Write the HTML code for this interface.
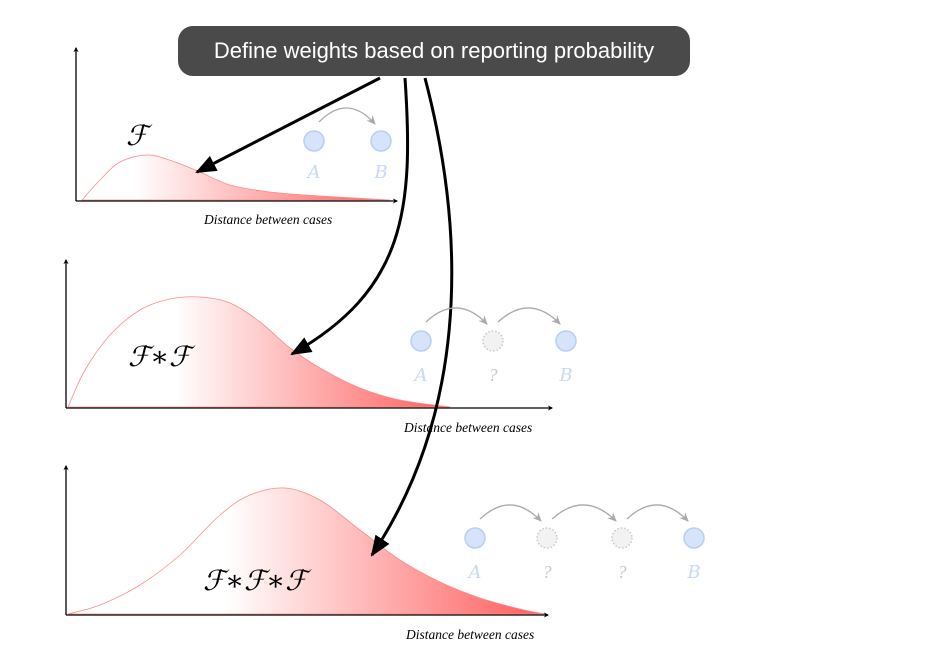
<!DOCTYPE html>
<html><head><meta charset="utf-8"><style>
body{margin:0;background:#fff;width:935px;height:661px;overflow:hidden}
svg{display:block}
.xl{font-family:"Liberation Serif",serif;font-style:italic;font-size:13.5px;fill:#000}
.fl{font-family:"DejaVu Serif","Liberation Serif",serif;font-style:italic;font-size:28px;fill:#000}
.nl{font-family:"DejaVu Serif","Liberation Serif",serif;font-style:italic;font-size:18px;fill:#c9d9f7}
.ql{font-family:"Liberation Serif",serif;font-style:italic;font-size:18px;fill:#c8c8c8}
</style></head><body>
<svg id="s" width="935" height="661" viewBox="0 0 935 661">
<defs>
<marker id="ah" viewBox="0 0 10 10" refX="9" refY="5" markerWidth="7" markerHeight="7" orient="auto"><path d="M0,1 L10,5 L0,9 z" fill="#000"/></marker>
<marker id="bh" viewBox="0 0 10 10" refX="8" refY="5" markerWidth="4" markerHeight="4" orient="auto"><path d="M0,0 L10,5 L0,10 L3,5z" fill="#000"/></marker>
<marker id="gh" viewBox="0 0 10 10" refX="8" refY="5" markerWidth="8" markerHeight="8" orient="auto"><path d="M0,1 L9,5 L0,9 L3,5z" fill="#aaa"/></marker>
<linearGradient id="g1" x1="0" x2="1" y1="0" y2="0"><stop offset="0.17" stop-color="#fff"/><stop offset="1" stop-color="#ff5c5c"/></linearGradient>
<linearGradient id="g2" x1="0" x2="1" y1="0" y2="0"><stop offset="0.28" stop-color="#fff"/><stop offset="1" stop-color="#ff5c5c"/></linearGradient>
<linearGradient id="g3" x1="0" x2="1" y1="0" y2="0"><stop offset="0.33" stop-color="#fff"/><stop offset="1" stop-color="#ff5c5c"/></linearGradient>
</defs>
<g id="curves"></g>
<g>
<rect x="178" y="26" width="512" height="50" rx="15" fill="#4a4a4a"/>
<text x="434" y="58" text-anchor="middle" font-family="Liberation Sans, sans-serif" font-size="22" fill="#fff">Define weights based on reporting probability</text>
</g>
<g fill="none" stroke="#000" stroke-width="3">
<path d="M380,78 L197,172" marker-end="url(#ah)"/>
<path d="M405,78 C414,210 405,290 292,354" marker-end="url(#ah)"/>
<path d="M425,78 C470,250 462,420 372,555" marker-end="url(#ah)"/>
</g>
<text class="fl" x="126" y="145">ℱ</text>
<text class="fl" x="128" y="366">ℱ∗ℱ</text>
<text class="fl" x="203" y="590">ℱ∗ℱ∗ℱ</text>
<text class="xl" x="204" y="224">Distance between cases</text>
<text class="xl" x="404" y="432">Distance between cases</text>
<text class="xl" x="406" y="639">Distance between cases</text>
<g id="nodes"></g>
</svg>
<script>
const ns="http://www.w3.org/2000/svg";
// density curves [x,y] (pixel-space axes per panel)
const curve1X=[82,100,120,148,175,200,230,270,320,390];
const curve1Y=[200,180,162,155,162,172,185,192,196,200];
const curve2X=[68,85,110,140,170,200,230,260,290,320,360,400,450];
const curve2Y=[407,370,335,310,299,297,303,322,348,368,388,400,407];
const curve3X=[68,100,140,180,220,250,285,320,360,400,440,480,520,545];
const curve3Y=[614,605,585,555,515,495,488,500,530,560,582,598,609,614];
const panels=[
 {xs:curve1X,ys:curve1Y,ox:76,oy:201,top:48,xe:397,g:"g1"},
 {xs:curve2X,ys:curve2Y,ox:66,oy:408,top:260,xe:552,g:"g2"},
 {xs:curve3X,ys:curve3Y,ox:66,oy:615,top:466,xe:548,g:"g3"}];
function smooth(xs,ys){let d="M"+xs[0]+","+ys[0];
 for(let i=0;i<xs.length-1;i++){const x0=xs[i-1]??xs[i],y0=ys[i-1]??ys[i],x3=xs[i+2]??xs[i+1],y3=ys[i+2]??ys[i+1];
  const c1x=xs[i]+(xs[i+1]-x0)/6,c1y=ys[i]+(ys[i+1]-y0)/6,c2x=xs[i+1]-(x3-xs[i])/6,c2y=ys[i+1]-(y3-ys[i])/6;
  d+=` C${c1x},${c1y} ${c2x},${c2y} ${xs[i+1]},${ys[i+1]}`;}return d;}
const cg=document.getElementById("curves");
panels.forEach((p,i)=>{
 const a=document.createElementNS(ns,"path");
 a.setAttribute("d",smooth(p.xs,p.ys)+" Z");
 a.setAttribute("fill","url(#"+p.g+")");a.setAttribute("stroke","#ff8a8a");a.setAttribute("stroke-width","0.8");
 
 
 cg.appendChild(a);
 [[p.ox,p.oy,p.ox,p.top],[p.ox,p.oy,p.xe,p.oy]].forEach(l=>{const m=document.createElementNS(ns,"line");
  m.setAttribute("x1",l[0]);m.setAttribute("y1",l[1]);m.setAttribute("x2",l[2]);m.setAttribute("y2",l[3]);
  m.setAttribute("stroke","#000");m.setAttribute("stroke-width","1.3");m.setAttribute("marker-end","url(#bh)");
  
  
  cg.appendChild(m);});
});
// node chains
const chains=[{y:141,xs:[314,381],ly:178},{y:341,xs:[421,493,566],ly:381},{y:538,xs:[475,547,622,694],ly:578}];
const ng=document.getElementById("nodes");
chains.forEach(c=>{
 c.xs.forEach((x,i)=>{
  const last=i===c.xs.length-1,first=i===0,unk=!first&&!last;
  const ci=document.createElementNS(ns,"circle");
  ci.setAttribute("cx",x);ci.setAttribute("cy",c.y);ci.setAttribute("r",10);
  if(unk){ci.setAttribute("fill","#f2f2f2");ci.setAttribute("stroke","#c8c8c8");ci.setAttribute("stroke-dasharray","1.5,2");ci.setAttribute("stroke-width","1.5");}
  else{ci.setAttribute("fill","#d6e4fb");ci.setAttribute("stroke","#b8cef5");ci.setAttribute("stroke-width","1.5");}
  
  
  ng.appendChild(ci);
  const t=document.createElementNS(ns,"text");
  t.setAttribute("x",x);t.setAttribute("y",c.ly);t.setAttribute("text-anchor","middle");
  t.setAttribute("class",unk?"ql":"nl");t.textContent=first?"A":(last?"B":"?");
  
  
  ng.appendChild(t);
  if(!last){const x2=c.xs[i+1];const a=document.createElementNS(ns,"path");
   a.setAttribute("d",`M${x+5},${c.y-19} Q${(x+x2)/2},${c.y-48} ${x2-6},${c.y-17}`);
   a.setAttribute("fill","none");a.setAttribute("stroke","#aaa");a.setAttribute("stroke-width","1.3");a.setAttribute("marker-end","url(#gh)");
   
   
   ng.appendChild(a);}
 });
});
</script>
</body></html>
